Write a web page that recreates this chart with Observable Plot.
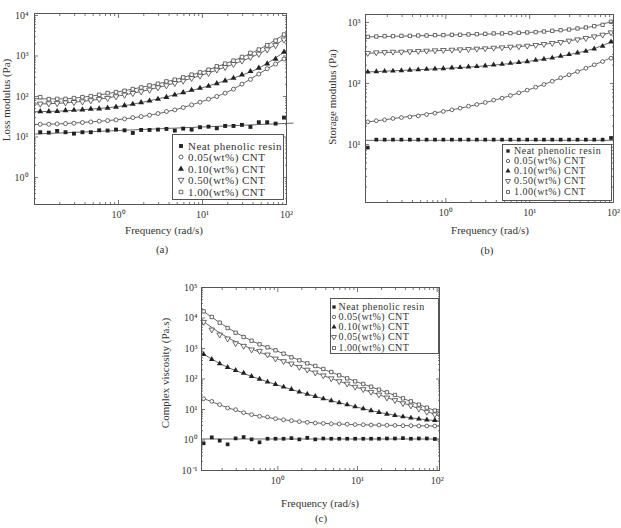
<!DOCTYPE html>
<html><head><meta charset="utf-8">
<script src="https://cdn.jsdelivr.net/npm/d3@7"></script>
<script src="https://cdn.jsdelivr.net/npm/@observablehq/plot@0.6"></script>
<style>
html,body{margin:0;padding:0;background:#fff;}
#root{position:relative;width:621px;height:528px;overflow:hidden;font-family:'Liberation Serif','Times New Roman',serif;color:#333;background:#fff;}
.lbl{position:absolute;white-space:nowrap;font-size:11px;line-height:1;transform:translate(-50%,-50%);}
.lbl.rot{transform:translate(-50%,-50%) rotate(-90deg);}
.legend{position:absolute;border:1px solid #555;background:#fff;box-sizing:border-box;}
.lrow{position:absolute;white-space:nowrap;font-size:12px;line-height:1;transform:translateY(-50%);}
</style></head><body><div id="root"></div>
<script>
// ---------- shared frequency grid (rad/s) ----------
const freq = [0.117, 0.148, 0.186, 0.234, 0.295, 0.372, 0.468, 0.589, 0.742, 0.934, 1.18, 1.48, 1.86, 2.34, 2.95, 3.72, 4.68, 5.89, 7.42, 9.34, 11.8, 14.8, 18.6, 23.4, 29.5, 37.2, 46.8, 58.9, 74.2, 93.4];

// ---------- (a) Loss modulus (Pa) ----------
const lossNeat = [13.1, 12.8, 14.1, 13.1, 12.1, 13.1, 13.1, 14.6, 14.4, 15.2, 14.6, 12.6, 14.9, 14.9, 15.2, 15.8, 14.4, 16.1, 15.2, 17.4, 18.0, 16.4, 18.7, 18.7, 19.9, 17.7, 23.1, 23.1, 21.4, 30.1];
const loss005 = [20.6, 20.6, 21, 21.4, 21.8, 22.7, 23.5, 24.5, 25.4, 26.4, 27.9, 30.1, 31.9, 34.4, 37.9, 42.5, 46.7, 53.3, 62, 72.4, 86, 100, 121, 152, 202, 264, 358, 485, 632, 844];
const loss010 = [42.5, 42.5, 43, 45, 46, 47, 49, 50, 52, 55, 60, 65, 71, 78, 86, 96, 110, 126, 144, 161, 180, 210, 245, 285, 345, 417, 504, 646, 844, 1260];
const loss050 = [66, 67, 68, 71, 72, 75, 80, 86, 91, 100, 110, 121, 133, 146, 167, 187, 214, 245, 285, 325, 379, 458, 533, 632, 765, 944, 1126, 1440, 1830, 2530];
const loss100 = [96, 86, 87, 87, 91, 96, 102, 110, 121, 128, 138, 152, 167, 187, 206, 235, 259, 295, 345, 394, 458, 554, 646, 765, 944, 1190, 1440, 1830, 2390, 3380];
const fitFreqA = [0.1, 0.2, 0.5, 1, 2, 5, 10, 20, 50, 100];
const lossFit005 = [20.4, 21.1, 23.8, 26.9, 32.6, 48.6, 76, 130, 392, 920];
const lossFit010 = [42, 43.6, 49.3, 56.4, 73, 114, 166, 256, 540, 1380];
const lossFit050 = [65, 68, 81, 103, 137, 222, 340, 560, 1210, 2800];
const lossFit100 = [88, 87, 104, 131, 173, 270, 412, 680, 1550, 3700];
const neatFitFreqA = [0.1, 120];
const lossFitNeat = [11.8, 22];

// ---------- (b) Storage modulus (Pa) ----------
const storageNeat = [8.9, 12.0, 12.0, 12.0, 12.0, 12.0, 12.0, 12.0, 12.0, 12.0, 12.0, 12.0, 12.0, 12.0, 12.0, 12.0, 12.0, 12.0, 12.0, 12.0, 12.0, 12.0, 12.0, 12.0, 12.0, 12.0, 12.0, 12.0, 12.0, 12.8];
const storage005 = [23.5, 24.5, 25.4, 26.7, 27.7, 28.4, 29.5, 31.0, 32.6, 34.8, 37.0, 39.4, 42.5, 45.3, 48.8, 53.3, 57.5, 63.6, 70.3, 77.7, 87.1, 96.3, 109, 124, 139, 157, 178, 202, 229, 260];
const storage010 = [155, 157, 159, 161, 163, 166, 168, 172, 174, 176, 181, 183, 188, 190, 195, 202, 207, 215, 221, 229, 241, 251, 263, 281, 299, 318, 339, 370, 409, 482];
const storage050 = [314, 322, 326, 330, 330, 335, 339, 343, 348, 352, 356, 361, 365, 370, 375, 384, 389, 399, 404, 414, 425, 441, 458, 476, 501, 526, 553, 589, 628, 686];
const storage100 = [582, 589, 597, 597, 604, 604, 612, 612, 620, 620, 628, 628, 636, 644, 652, 661, 661, 669, 678, 686, 695, 712, 730, 748, 767, 798, 828, 871, 916, 1025];
const fitFreqB = [0.11, 0.3, 1, 3, 10, 30, 60, 100];
const storageFit005 = [23.2, 27.8, 35.4, 49, 80, 140, 204, 275];
const storageFit010 = [154, 164, 177, 195, 232, 299, 377, 500];
const storageFit050 = [312, 330, 349, 375, 416, 503, 591, 700];
const storageFit100 = [580, 598, 620, 645, 688, 768, 875, 1060];
const neatFitFreqB = [0.11, 100];
const storageFitNeat = [11.7, 11.7];

// ---------- (c) Complex viscosity (Pa.s) ----------
const viscNeat = [0.78, 1.22, 0.95, 0.72, 1.13, 1.25, 1.05, 0.84, 1.1, 1.1, 1.1, 1.15, 1.05, 1.18, 1.05, 1.12, 1.1, 1.1, 1.1, 1.1, 1.1, 1.1, 1.1, 1.12, 1.12, 1.15, 1.1, 1.12, 1.12, 1.08];
const visc005 = [22.6, 18.5, 14.4, 11.2, 9.9, 7.9, 6.8, 6.0, 5.7, 5.0, 4.6, 4.3, 4.0, 3.8, 3.6, 3.5, 3.4, 3.35, 3.3, 3.2, 3.18, 3.1, 3.1, 3.03, 3.0, 2.95, 2.95, 2.9, 2.88, 2.88];
const visc010 = [644, 441, 318, 241, 192, 157, 122, 100, 79.8, 66.9, 54.7, 45.9, 37.5, 32.2, 27, 22.6, 19.5, 16.7, 14.4, 12.4, 10.6, 9.2, 8.1, 7.1, 6.4, 5.8, 5.3, 4.9, 4.6, 4.4];
const visc050 = [7400, 4140, 2840, 2100, 1475, 1210, 916, 828, 628, 464, 380, 318, 247, 200, 162, 130, 104, 84, 70, 55, 46, 37.5, 30.6, 24.4, 20, 15.9, 13.4, 10.6, 8.3, 6.8];
const visc100 = [16550, 10800, 7030, 4700, 3300, 2380, 1800, 1370, 1090, 871, 676, 513, 409, 326, 267, 213, 170, 132, 105, 84, 68.5, 56, 44.7, 36.6, 29.9, 23.2, 18.5, 14.4, 11.5, 9.2];
const fitFreqC = [0.11, 0.2, 0.5, 1, 2, 5, 10, 20, 50, 107];
const viscFit005 = [24.5, 13.3, 6.5, 4.9, 3.94, 3.38, 3.18, 3.06, 2.94, 2.86];
const viscFit010 = [720, 293, 115, 63, 35.8, 18.6, 11.8, 7.8, 5.2, 4.2];
const viscFit050 = [8600, 2900, 900, 450, 235, 98, 52, 28.5, 12.5, 6.1];
const viscFit100 = [18500, 6240, 1660, 807, 382, 157, 79, 42, 17.2, 8.0];
const neatFitFreqC = [0.11, 107];
const viscFitNeat = [1.08, 1.08];

// ---------- ticks & texts ----------
const xTickValues = [1, 10, 100];
const xTickLabels = ["10⁰", "10¹", "10²"];
const yTickValuesA = [1, 10, 100, 1000, 10000];
const yTickLabelsA = ["10⁰", "10¹", "10²", "10³", "10⁴"];
const yTickValuesB = [10, 100, 1000];
const yTickLabelsB = ["10¹", "10²", "10³"];
const yTickValuesC = [0.1, 1, 10, 100, 1000, 10000, 100000];
const yTickLabelsC = ["10⁻¹", "10⁰", "10¹", "10²", "10³", "10⁴", "10⁵"];
const legendLabelsAB = ["Neat phenolic resin", "0.05(wt%) CNT", "0.10(wt%) CNT", "0.50(wt%) CNT", "1.00(wt%) CNT"];
const legendLabelsC = ["Neat phenolic resin", "0.05(wt%) CNT", "0.10(wt%) CNT", "0.05(wt%) CNT", "1.00(wt%) CNT"];
const xTitle = "Frequency (rad/s)";
const yTitleA = "Loss modulus (Pa)";
const yTitleB = "Storage modulus (Pa)";
const yTitleC = "Complex viscosity (Pa.s)";
const captions = ["(a)", "(b)", "(c)"];

// ---------- styles ----------
const triangleDown = {
  draw(context, size) {
    const y = -Math.sqrt(size / (Math.sqrt(3) * 3));
    context.moveTo(0, -y * 2);
    context.lineTo(-Math.sqrt(3) * y, y);
    context.lineTo(Math.sqrt(3) * y, y);
    context.closePath();
  }
};
const styles = [
  {symbol: "square", fill: "#222", stroke: "none", r: 2.2},
  {symbol: "circle", fill: "white", stroke: "#444", r: 2.0},
  {symbol: "triangle", fill: "#222", stroke: "none", r: 2.2},
  {symbol: triangleDown, fill: "white", stroke: "#444", r: 2.2},
  {symbol: "square", fill: "white", stroke: "#444", r: 2.0}
];
const root = document.getElementById("root");

function minorTicks(domain) {
  const out = [];
  for (let e = -3; e <= 6; e++) for (let m = 2; m <= 9; m++) {
    const v = m * Math.pow(10, e);
    if (v >= domain[0] && v <= domain[1]) out.push(v);
  }
  return out;
}
function fmt(vals, labels) {
  return d => labels[vals.findIndex(v => Math.abs(Math.log10(v) - Math.log10(d)) < 1e-6)];
}
function makePanel(cfg) {
  const marks = [];
  cfg.fits.forEach(f => {
    const data = f.x.map((x, i) => ({x, y: f.y[i]}));
    marks.push(Plot.line(data, {x: "x", y: "y", stroke: "#555", strokeWidth: 0.9, curve: f.x.length > 2 ? "monotone-x" : "linear"}));
  });
  cfg.series.forEach((vals, s) => {
    const st = styles[s];
    const data = freq.map((x, i) => ({x, y: vals[i]})).filter(d => d.y != null);
    marks.push(Plot.dot(data, {x: "x", y: "y", symbol: st.symbol, fill: st.fill, stroke: st.stroke, strokeWidth: 0.8, r: st.r * cfg.dotScale}));
  });
  const xMinor = minorTicks(cfg.xDomain), yMinor = minorTicks(cfg.yDomain);
  const tick = {fill: "none", label: null, stroke: "#555", strokeWidth: 0.8};
  marks.push(
    Plot.frame({stroke: "#555", strokeWidth: 1}),
    Plot.axisX(xTickValues, {anchor: "bottom", tickSize: 0, tickPadding: cfg.padX, tickFormat: fmt(xTickValues, xTickLabels), label: null, fill: "#333", fontSize: 10}),
    Plot.axisY(cfg.yTicks, {anchor: "left", tickSize: 0, tickPadding: cfg.padY, tickFormat: fmt(cfg.yTicks, cfg.yLabels), label: null, fill: "#333", fontSize: 10}),
    Plot.axisX(xTickValues, {anchor: "bottom", tickSize: -4, ...tick}),
    Plot.axisX(xTickValues, {anchor: "top", tickSize: -4, ...tick}),
    Plot.axisX(xMinor, {anchor: "bottom", tickSize: -2, ...tick}),
    Plot.axisX(xMinor, {anchor: "top", tickSize: -2, ...tick}),
    Plot.axisY(cfg.yTicks, {anchor: "left", tickSize: -4, ...tick}),
    Plot.axisY(cfg.yTicks, {anchor: "right", tickSize: -4, ...tick}),
    Plot.axisY(yMinor, {anchor: "left", tickSize: -2, ...tick}),
    Plot.axisY(yMinor, {anchor: "right", tickSize: -2, ...tick})
  );
  const svg = Plot.plot({
    width: cfg.width, height: cfg.height,
    marginLeft: cfg.m[0], marginRight: cfg.m[1], marginTop: cfg.m[2], marginBottom: cfg.m[3],
    x: {type: "log", domain: cfg.xDomain},
    y: {type: "log", domain: cfg.yDomain},
    style: {fontFamily: "'Liberation Serif','Times New Roman',serif", fontSize: "10px", color: "#333", background: "transparent", overflow: "visible"},
    marks
  });
  svg.style.position = "absolute";
  svg.style.left = cfg.left + "px";
  svg.style.top = cfg.top + "px";
  svg.style.maxWidth = "none";
  root.appendChild(svg);
}
function label(text, cx, cy, rot, size) {
  const d = document.createElement("div");
  d.className = "lbl" + (rot ? " rot" : "");
  d.textContent = text;
  d.style.left = cx + "px"; d.style.top = cy + "px";
  if (size) d.style.fontSize = size + "px";
  root.appendChild(d);
}
const symbolTypes = {square: d3.symbolSquare, circle: d3.symbolCircle, triangle: d3.symbolTriangle};
function legend(labels, box, rowsY, markerX, textX, scale, fontSize, spacing) {
  const div = document.createElement("div");
  div.className = "legend";
  Object.assign(div.style, {left: box[0] + "px", top: box[1] + "px", width: box[2] + "px", height: box[3] + "px"});
  root.appendChild(div);
  labels.forEach((t, i) => {
    const st = styles[i];
    const type = typeof st.symbol === "string" ? symbolTypes[st.symbol] : st.symbol;
    const svg = d3.create("svg").attr("width", 10).attr("height", 10)
      .style("position", "absolute").style("left", (markerX - 5) + "px").style("top", (rowsY[i] - 5) + "px").style("overflow", "visible");
    svg.append("path").attr("transform", "translate(5,5)")
      .attr("d", d3.symbol(type, Math.PI * (st.r * scale) ** 2)())
      .attr("fill", st.fill).attr("stroke", st.stroke).attr("stroke-width", 0.8);
    root.appendChild(svg.node());
    const row = document.createElement("div");
    row.className = "lrow";
    row.textContent = t;
    row.style.left = textX + "px"; row.style.top = rowsY[i] + "px";
    row.style.fontSize = fontSize + "px";
    row.style.letterSpacing = spacing + "px";
    root.appendChild(row);
  });
}

// (a)
makePanel({
  left: 0, top: 0, width: 300, height: 240, m: [34, 14, 13, 36],
  xDomain: [0.1, 100], yDomain: [0.215, 11200],
  yTicks: yTickValuesA, yLabels: yTickLabelsA, padX: 6, padY: 6, dotScale: 1,
  series: [lossNeat, loss005, loss010, loss050, loss100],
  fits: [{x: neatFitFreqA, y: lossFitNeat}, {x: fitFreqA, y: lossFit005}, {x: fitFreqA, y: lossFit010}, {x: fitFreqA, y: lossFit050}, {x: fitFreqA, y: lossFit100}]
});
// (b)
makePanel({
  left: 330, top: 0, width: 291, height: 240, m: [35, 8, 14, 38],
  xDomain: [0.11, 100], yDomain: [1.12, 1352],
  yTicks: yTickValuesB, yLabels: yTickLabelsB, padX: 6, padY: 5, dotScale: 0.95,
  series: [storageNeat, storage005, storage010, storage050, storage100],
  fits: [{x: neatFitFreqB, y: storageFitNeat}, {x: fitFreqB, y: storageFit005}, {x: fitFreqB, y: storageFit010}, {x: fitFreqB, y: storageFit050}, {x: fitFreqB, y: storageFit100}]
});
// (c)
makePanel({
  left: 165, top: 270, width: 290, height: 220, m: [36, 16, 17, 20],
  xDomain: [0.11, 107], yDomain: [0.1, 100000],
  yTicks: yTickValuesC, yLabels: yTickLabelsC, padX: 6, padY: 4, dotScale: 0.95,
  series: [viscNeat, visc005, visc010, visc050, visc100],
  fits: [{x: neatFitFreqC, y: viscFitNeat}, {x: fitFreqC, y: viscFit005}, {x: fitFreqC, y: viscFit010}, {x: fitFreqC, y: viscFit050}, {x: fitFreqC, y: viscFit100}]
});

// axis titles and captions
label(yTitleA, 6, 100, true);
label(xTitle, 164, 230, false);
label(captions[0], 162, 249, false);
label(yTitleB, 331.5, 97, true);
label(xTitle, 490, 230, false);
label(captions[1], 487, 250, false);
label(yTitleC, 165, 373, true);
label(xTitle, 320, 503, false);
label(captions[2], 321, 518, false);

// legends
legend(legendLabelsAB, [172, 134, 112, 66], [145.5, 157, 168.5, 180, 191.5], 180.5, 188, 1, 11, 0.45);
legend(legendLabelsAB, [502, 144, 110, 57], [150.5, 160.8, 171.1, 181.4, 191.7], 508, 514, 0.85, 10, 0.5);
legend(legendLabelsC, [330, 298, 109, 56], [306.5, 316.8, 327.1, 337.4, 347.7], 334, 338.5, 0.85, 10, 0.45);
</script></body></html>
